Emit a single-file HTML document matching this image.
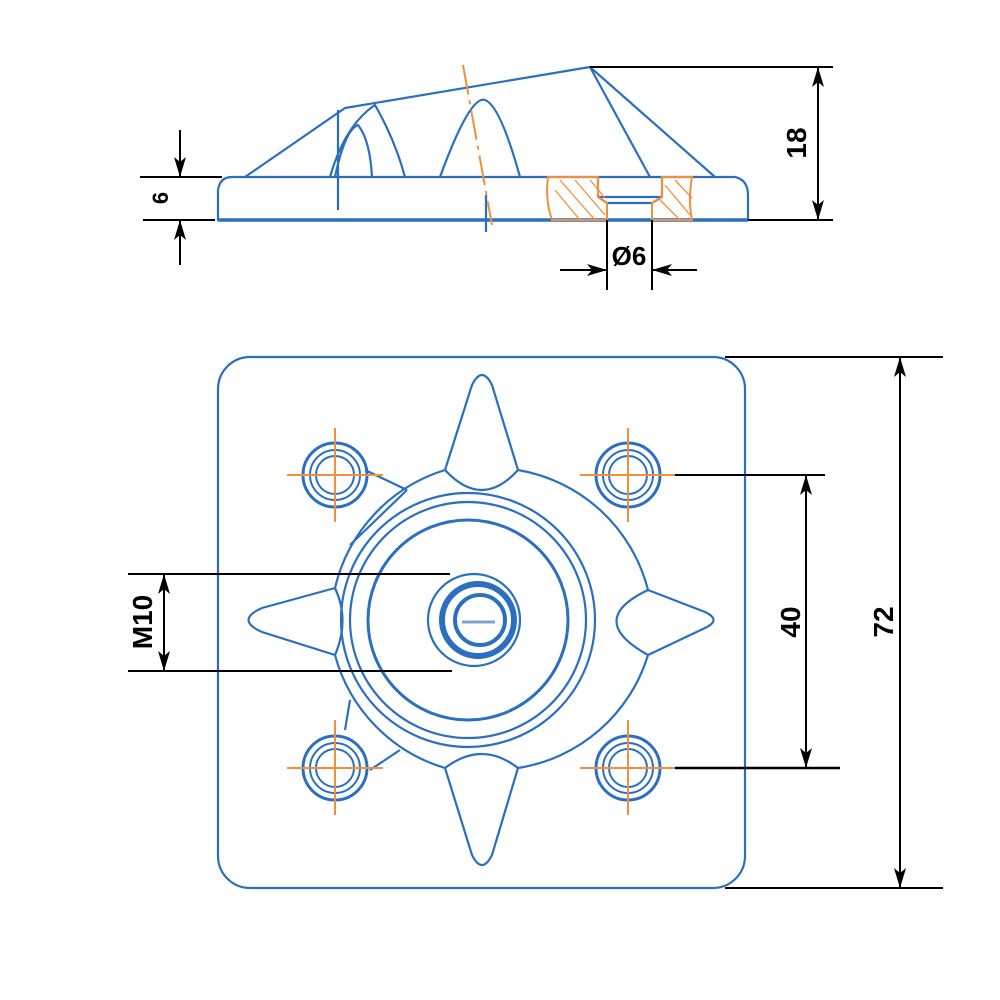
<!DOCTYPE html>
<html><head><style>html,body{margin:0;padding:0;background:#fff}svg{display:block}</style></head>
<body>
<svg width="1000" height="1000" viewBox="0 0 1000 1000" xmlns="http://www.w3.org/2000/svg">
<defs>
<marker id="a" markerWidth="20" markerHeight="24" refX="20" refY="12" orient="auto-start-reverse" markerUnits="userSpaceOnUse"><path d="M0,6 L20,12 L0,18 L5,12 Z" fill="#000"/></marker>
</defs>
<g fill="none" stroke="#2a6fc0" stroke-width="2.2" stroke-linejoin="round">
<!-- top view -->
<path d="M218,220 L218,190 Q220,177 232,177 L735,177 Q748,180 748,195 L748,220 Z"/>
<line x1="218" y1="220" x2="748" y2="220" stroke-width="3.5"/>
<path d="M245,177 L345,108 L590,67 L715,177"/>
<path d="M590,67 L650,177"/>
<path d="M330,177 Q345,125 375,105 Q395,140 405,177"/>
<path d="M335,177 Q345,130 358,125 Q370,140 372,177"/>
<path d="M440,177 Q470,95 485,100 Q500,105 520,177"/>
<line x1="338" y1="110" x2="338" y2="210"/>
<line x1="486" y1="195" x2="486" y2="232"/>
<path d="M598,177 L598,197 L662,197 L662,177 M598,197 L607,203 L652,203 L662,197"/>
<!-- plate -->
<rect x="218" y="357" width="527" height="531" rx="32"/>
<!-- star body -->
<path d="M445,470 L472,385 Q482,365 492,385 L518,470 A162,162 0 0 1 648,590 L705,612 Q722,620 705,628 L648,655 A162,162 0 0 1 518,768 L492,855 Q482,875 472,855 L445,768 A162,162 0 0 1 335,655 L262,632 Q235,620 262,608 L335,588 A162,162 0 0 1 445,470 Z"/>
<path d="M445,470 Q482,510 518,470 M648,590 Q585,620 648,655 M445,768 Q482,740 518,768 M335,588 Q350,620 335,655"/>
<path d="M407,490 L365,470 M407,490 L350,545 M400,750 L370,770 M350,700 L345,730"/>
<circle cx="468" cy="620" r="127"/>
<circle cx="468" cy="620" r="118"/>
<circle cx="468" cy="620" r="100" stroke-width="3"/>
<circle cx="474" cy="620" r="46"/>
<circle cx="478" cy="620" r="36" stroke-width="6"/>
<circle cx="480" cy="620" r="25" stroke-width="4"/>
<line x1="462" y1="622" x2="495" y2="622" stroke="#7fa3d0" stroke-width="3"/>
<g stroke-width="3">
<circle cx="335" cy="475" r="32"/><circle cx="335" cy="475" r="25" stroke-width="2"/><circle cx="335" cy="475" r="19" stroke-width="2"/>
<circle cx="628" cy="475" r="32"/><circle cx="628" cy="475" r="25" stroke-width="2"/><circle cx="628" cy="475" r="19" stroke-width="2"/>
<circle cx="335" cy="768" r="32"/><circle cx="335" cy="768" r="25" stroke-width="2"/><circle cx="335" cy="768" r="19" stroke-width="2"/>
<circle cx="628" cy="768" r="32"/><circle cx="628" cy="768" r="25" stroke-width="2"/><circle cx="628" cy="768" r="19" stroke-width="2"/>
</g>
</g>
<!-- orange -->
<g stroke="#f0903a" stroke-width="2" fill="none">
<line x1="463" y1="65" x2="492" y2="225" stroke-dasharray="30,6,4,6"/>
<path d="M548,177 L598,177 L598,197 L607,203 L607,220 L552,220 Q545,200 548,177 Z"/>
<path d="M662,177 L692,177 Q688,200 692,220 L652,220 L652,203 L662,197 Z"/>
<path d="M555,190 L580,220 M560,180 L595,220 M575,180 L605,215 M590,180 L605,198 M665,185 L690,215 M660,200 L680,220 M675,180 L692,198" stroke-width="1.3"/>
<path d="M287,475 L383,475 M335,428 L335,522 M580,475 L676,475 M628,428 L628,522 M287,768 L383,768 M335,720 L335,815 M580,768 L676,768 M628,720 L628,815"/>
</g>
<!-- dimensions -->
<g stroke="#000" stroke-width="2" fill="none">
<line x1="140" y1="177" x2="222" y2="177"/><line x1="143" y1="220" x2="215" y2="220"/>
<line x1="180" y1="130" x2="180" y2="177" marker-end="url(#a)"/>
<line x1="180" y1="265" x2="180" y2="220" marker-end="url(#a)"/>
<line x1="590" y1="67" x2="833" y2="67"/><line x1="748" y1="220" x2="833" y2="220"/>
<line x1="818" y1="67" x2="818" y2="220" marker-start="url(#a)" marker-end="url(#a)"/>
<line x1="607" y1="220" x2="607" y2="290"/><line x1="652" y1="220" x2="652" y2="290"/>
<line x1="560" y1="270" x2="607" y2="270" marker-end="url(#a)"/>
<line x1="697" y1="270" x2="652" y2="270" marker-end="url(#a)"/>
<line x1="725" y1="357" x2="943" y2="357"/><line x1="725" y1="888" x2="943" y2="888"/>
<line x1="900" y1="357" x2="900" y2="888" marker-start="url(#a)" marker-end="url(#a)"/>
<line x1="675" y1="475" x2="825" y2="475"/><line x1="675" y1="768" x2="840" y2="768" stroke-width="2.5"/>
<line x1="806" y1="475" x2="806" y2="768" marker-start="url(#a)" marker-end="url(#a)"/>
<line x1="128" y1="574" x2="450" y2="574"/><line x1="128" y1="671" x2="452" y2="671"/>
<line x1="164" y1="574" x2="164" y2="671" marker-start="url(#a)" marker-end="url(#a)"/>
</g>
<g font-family="Liberation Sans, sans-serif" font-weight="bold" fill="#000" text-anchor="middle">
<text x="0" y="0" font-size="22" transform="translate(168,198) rotate(-90)">6</text>
<text x="0" y="0" font-size="28" transform="translate(806,143) rotate(-90)">18</text>
<text x="629" y="265" font-size="26">Ø6</text>
<text x="0" y="0" font-size="28" transform="translate(893,622) rotate(-90)">72</text>
<text x="0" y="0" font-size="28" transform="translate(800,622) rotate(-90)">40</text>
<text x="0" y="0" font-size="28" transform="translate(152,622) rotate(-90)">M10</text>
</g>
</svg>
</body></html>
